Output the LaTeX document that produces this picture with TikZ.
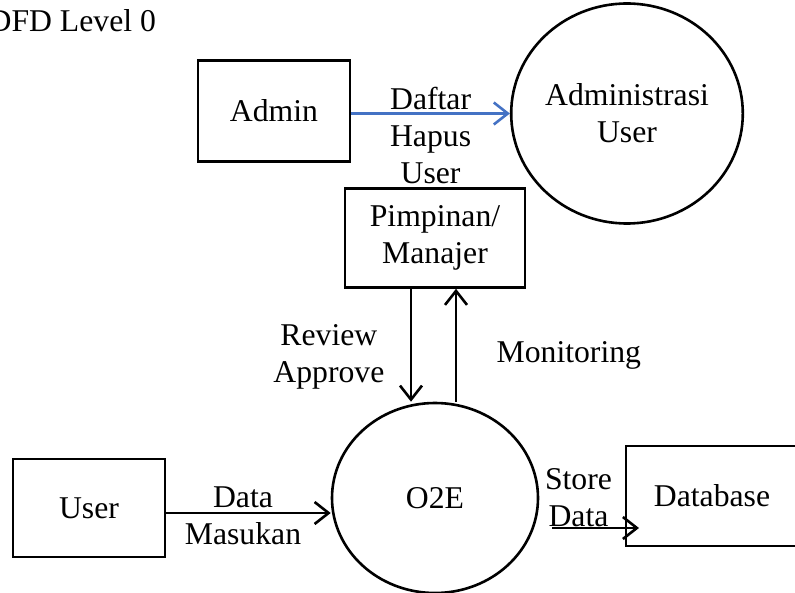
\documentclass[tikz,border=0pt]{standalone}
\usepackage{fontspec}
\setmainfont{Liberation Serif}
\usetikzlibrary{shapes.geometric,arrows.meta}
\definecolor{flowblue}{RGB}{68,114,196}

\begin{document}
\begin{tikzpicture}[x=1pt,y=-1pt,line width=2.6pt,
	  >={Straight Barb[length=14pt,width=22pt]},
	  every node/.style={font=\fontsize{31.7pt}{37pt}\selectfont},
	  entity node/.style={rectangle,draw,inner sep=2pt,align=center},
	  process node/.style={ellipse,draw,inner sep=0pt,align=center}]

	  \useasboundingbox (0,0) rectangle (795,593);
	  \node[anchor=base west] (0) at (-16,32) {DFD Level 0};

	  \node[process node,minimum width=206pt,minimum height=190pt] (4) at (435,498) {O2E};
	  \node[entity node,minimum width=180pt,minimum height=99pt] (3) [above of=4,node distance=260pt] {Pimpinan/\\Manajer};
	  \node[entity node,minimum width=152pt,minimum height=101pt] (1) [above of=3,node distance=127pt,xshift=-161pt] {Admin};
	  \node[process node,minimum width=220pt,minimum height=220pt] (2) [right of=1,node distance=353pt,yshift=-2.5pt] {Administrasi\\User};
	  \node[entity node,minimum width=152pt,minimum height=98pt] (5) [left of=4,node distance=346pt,yshift=-10pt] {User};
	  \node[entity node,minimum width=172pt,minimum height=100pt] (6) [right of=4,node distance=277pt,yshift=2pt] {Database};
	  \coordinate (7) at (552,528);
	  \coordinate (8) at (639,528);

	  \path[->]
	    (1.east |- 2.west) edge[draw=flowblue] node [yshift=-22pt,align=center] {Daftar\\Hapus\\User} (2.west)
	    ([xshift=-24pt]3.south) edge node [left=22pt,yshift=-12pt,align=center] {Review\\Approve} ([xshift=-24pt]4.north)
	    ([xshift=21pt]4.north) edge node [right=36pt,yshift=-10pt] {Monitoring} ([xshift=21pt]3.south)
	    ([yshift=-5pt]5.east) edge node [xshift=-5.5pt,yshift=-3pt,align=center] {Data\\Masukan} ([yshift=-5pt]5.east -| 4.west)
	    (7) edge node [xshift=-17pt,yshift=30pt,align=center] {Store\\Data} (8);
	    % (6) edge (4);

	\end{tikzpicture}
\end{document}
